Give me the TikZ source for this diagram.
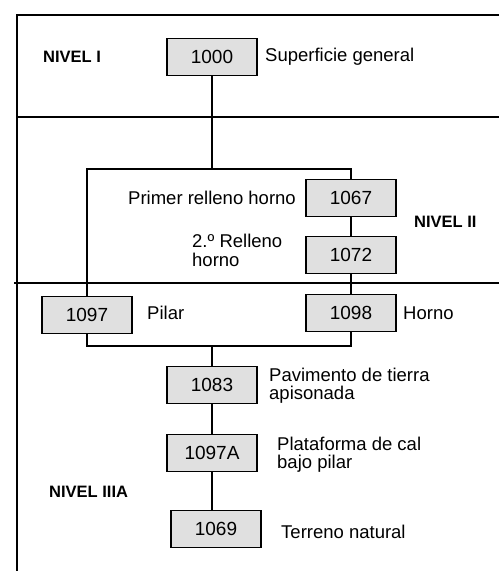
\documentclass[tikz,border=0pt]{standalone}
\usepackage{fontspec}
\setmainfont{Liberation Sans}
\usetikzlibrary{positioning}
\tikzset{
  unit/.style={draw=black, line width=1.3pt, fill=black!12, minimum width=90pt,
               minimum height=37pt, inner sep=2pt, font=\fontsize{19}{19}\selectfont},
  note/.style={anchor=west, inner sep=0pt, align=left, font=\fontsize{18.5}{18}\selectfont},
  nivel/.style={anchor=west, inner sep=0pt, font=\fontsize{16.5}{16.5}\selectfont\bfseries},
  wire/.style={line width=1.3pt},
  frame/.style={line width=1.2pt},
}
\begin{document}
\begin{tikzpicture}[x=1pt,y=-1pt]
  \useasboundingbox (0,0) rectangle (499,571);
  % frame and level lines
  \coordinate (tl) at (17,15);
  \draw[frame] (499,15) -- (tl) -- (17,571);
  \draw[frame] (17,117) -- (499,117);
  \draw[frame] (14,283) -- (499,283);
  % units
  \node[unit] (n1000) at (212,57) {1000};
  \node[unit] (n1067) at (351,198) {1067};
  \node[unit] (n1072) at (351,255) {1072};
  \node[unit] (n1097) at (87,315) {1097};
  \node[unit] (n1098) at (351,313) {1098};
  \node[unit] (n1083) at (212,385) {1083};
  \node[unit] (n1097A) at (212,453) {1097A};
  \node[unit] (n1069) at (216,529) {1069};
  % texts
  \node[nivel] (lvI) at (43,57) {NIVEL I};
  \node[nivel] (lvII) at (414,222) {NIVEL II};
  \node[nivel] (lvIIIA) at (49,492) {NIVEL IIIA};
  \node[note] (t1000) at (265,57) {Superficie general};
  \node[note,anchor=east] (t1067) at (296,198) {Primer relleno horno};
  \node[note,font=\fontsize{18.5}{19}\selectfont] (t1072) at (192,250) {2.º Relleno\\horno};
  \node[note] (t1097) at (147,313) {Pilar};
  \node[note] (t1098) at (403,313) {Horno};
  \node[note] (t1083) at (269,386) {Pavimento de tierra\\apisonada};
  \node[note] (t1097A) at (277,455) {Plataforma de cal\\bajo pilar};
  \node[note] (t1069) at (281,532) {Terreno natural};
  % connectors
  \coordinate (split) at (212,169);
  \coordinate (join) at (212,346);
  \draw[wire] (n1000.south) -- (split);
  \draw[wire] (n1097.north) -- (n1097.north |- split) -- (n1067.north |- split) -- (n1067.north);
  \draw[wire] (n1067) -- (n1072);
  \draw[wire] (n1072) -- (n1098);
  \draw[wire] (n1097.south) -- (n1097.south |- join) -- (n1098.south |- join) -- (n1098.south);
  \draw[wire] (join) -- (n1083.north);
  \draw[wire] (n1083) -- (n1097A);
  \draw[wire] (n1097A.south) -- (n1097A.south |- n1069.north);
\end{tikzpicture}
\end{document}
